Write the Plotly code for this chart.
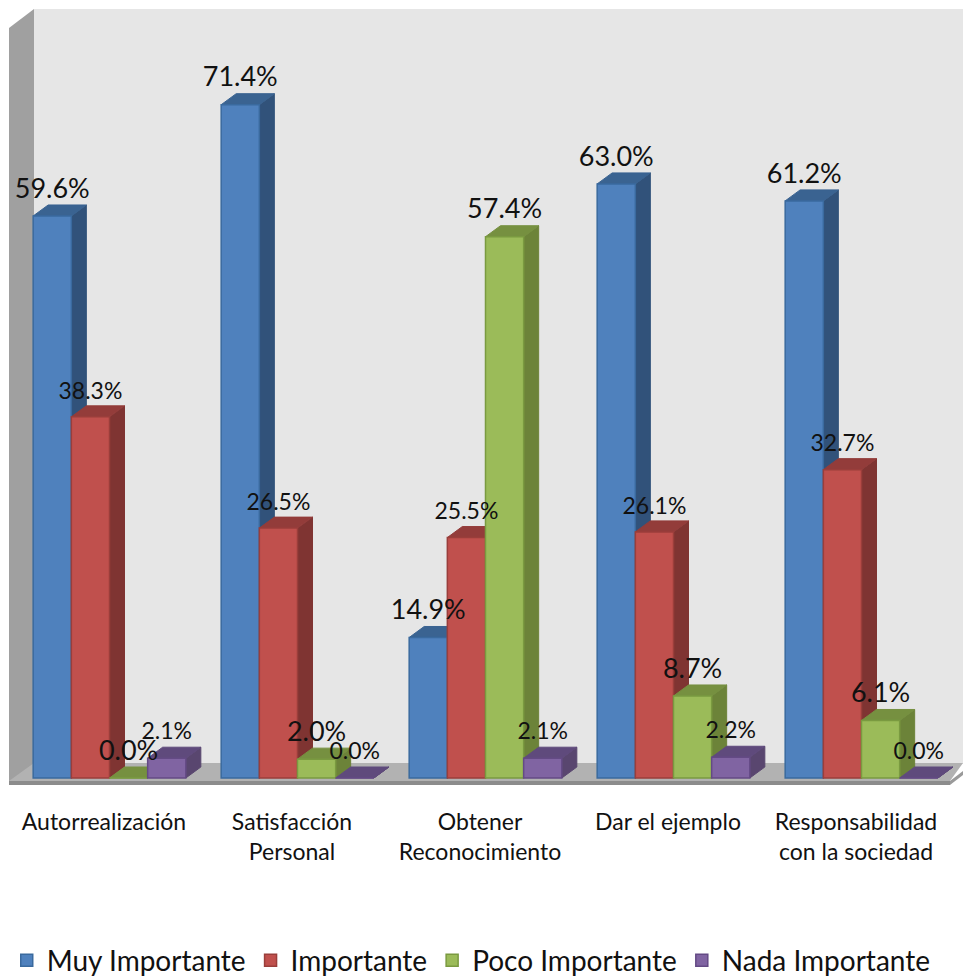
import plotly.graph_objects as go

categories = ["Autorrealización", "Satisfacción<br>Personal", "Obtener<br>Reconocimiento",
              "Dar el ejemplo", "Responsabilidad<br>con la sociedad"]
muy_importante = [59.6, 71.4, 14.9, 63.0, 61.2]
importante = [38.3, 26.5, 25.5, 26.1, 32.7]
poco_importante = [0.0, 2.0, 57.4, 8.7, 6.1]
nada_importante = [2.1, 0.0, 2.1, 2.2, 0.0]

W, H = 963, 977
PLOT_BOTTOM = 790      # pixel row at which the plot area stops
BASE_PX = 778          # pixel row of value 0
PX_PER_UNIT = 9.43     # pixels per percentage point
CAT_PX = 188           # pixels per category
CAT0_PX = 109.5        # pixel column of first category centre
BAR_W = 0.203
DX = 15 / CAT_PX
DY = 11 / PX_PER_UNIT
FONT = "Lato"

series = [
    ("Muy Importante", muy_importante, "#4F81BD", "#3A6A9E", "#31527A", "#3A6391", 27, 25),
    ("Importante", importante, "#C0504D", "#9A3E3B", "#7F3432", "#933C3A", 23, 24),
    ("Poco Importante", poco_importante, "#9BBB59", "#7A9A40", "#6C8339", "#769040", 27, 25),
    ("Nada Importante", nada_importante, "#8064A2", "#644A85", "#59466F", "#5F4A7C", 23, 25),
]

x_range = [-CAT0_PX / CAT_PX, (W - CAT0_PX) / CAT_PX]
y_range = [(BASE_PX - PLOT_BOTTOM) / PX_PER_UNIT, BASE_PX / PX_PER_UNIT]
cats = list(range(len(categories)))


def poly(points):
    def px(p):
        return f"{p[0] / W:.5f} {(PLOT_BOTTOM - p[1]) / PLOT_BOTTOM:.5f}"
    return "M" + " L".join(px(p) for p in points) + " Z"


backdrop = [
    ([(34, 9), (963, 9), (963, 764), (34, 764)], "#E6E6E6"),
    ([(9, 28), (34, 9), (34, 764), (9, 782)], "#A0A0A0"),
    ([(9, 781), (34, 763), (963, 763), (950, 781)], "#B2B2B2"),
    ([(9, 781), (950, 781), (950, 785), (9, 785)], "#8C8C8C"),
    ([(950, 781), (963, 771), (963, 775), (950, 785)], "#9A9A9A"),
]
shapes = [dict(type="path", xref="paper", yref="paper", path=poly(p), fillcolor=c,
               line=dict(width=0), layer="below") for p, c in backdrop]

fig = go.Figure()
for i, (name, vals, col, edge, side, top, fsize, lift) in enumerate(series):
    sx, sy, tx, ty = [], [], [], []
    for c, v in zip(cats, vals):
        x0 = c + (i - 2) * BAR_W
        x1 = x0 + BAR_W
        sx += [x1, x1 + DX, x1 + DX, x1, x1, None]
        sy += [0, DY, v + DY, v, 0, None]
        tx += [x0, x1, x1 + DX, x0 + DX, x0, None]
        ty += [v, v, v + DY, v + DY, v, None]
    for xs, ys, fc in ((sx, sy, side), (tx, ty, top)):
        fig.add_trace(go.Scatter(x=xs, y=ys, mode="lines", fill="toself", fillcolor=fc,
                                 line=dict(color=fc, width=1), showlegend=False,
                                 hoverinfo="skip", zorder=2 * i))
    fig.add_trace(go.Bar(x=cats, y=vals, name=name, width=BAR_W, offsetgroup=str(i),
                         marker=dict(color=col, line=dict(color=edge, width=1.5)),
                         zorder=2 * i + 1))
    fig.add_trace(go.Scatter(x=[c + (i - 1.5) * BAR_W for c in cats],
                             y=[v + lift / PX_PER_UNIT for v in vals],
                             mode="text", text=[f"{v:.1f}%" for v in vals],
                             textposition="middle center",
                             textfont=dict(family=FONT, size=fsize, color="#111111"),
                             showlegend=False, hoverinfo="skip", cliponaxis=False, zorder=20))

fig.update_layout(
    width=W, height=H, autosize=False,
    margin=dict(l=0, r=0, t=0, b=H - PLOT_BOTTOM, pad=0, autoexpand=False),
    paper_bgcolor="white", plot_bgcolor="rgba(0,0,0,0)",
    barmode="group", bargap=1 - 4 * BAR_W, bargroupgap=0,
    shapes=shapes,
    font=dict(family=FONT, color="#111111"),
    xaxis=dict(range=x_range, tickmode="array", tickvals=[c - 5.5 / CAT_PX for c in cats],
               ticktext=categories, tickangle=0, showgrid=False, zeroline=False, showline=False,
               ticks="", ticklabelstandoff=16, tickfont=dict(size=23, family=FONT, color="#111111")),
    yaxis=dict(range=y_range, visible=False, showgrid=False, zeroline=False),
    legend=dict(orientation="h", x=0.007, xanchor="left", y=-0.216, yanchor="middle",
                font=dict(size=28, family=FONT, color="#111111"), bgcolor="rgba(0,0,0,0)",
                traceorder="normal"),
)

fig.write_html("out.html", config=dict(displayModeBar=False),
               post_script="document.body.style.margin='0';document.body.style.overflow='hidden';")
